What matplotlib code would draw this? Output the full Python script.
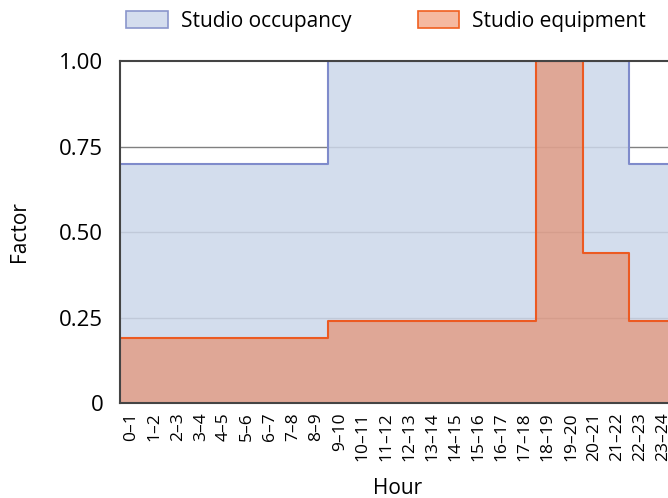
import matplotlib
matplotlib.use("Agg")
import matplotlib.pyplot as plt
from matplotlib.patches import Patch
import numpy as np

plt.rcParams['font.family'] = ['Open Sans', 'DejaVu Sans']

hours = [f"{h}\u2013{h+1}" for h in range(24)]
occupancy = [0.70]*9 + [1.0]*13 + [0.70]*2
equipment = [0.19]*9 + [0.24]*9 + [1.0]*2 + [0.44]*2 + [0.24]*2
yticks = [0, 0.25, 0.5, 0.75, 1.0]
yticklabels = ["0", "0.25", "0.50", "0.75", "1.00"]

fig = plt.figure(figsize=(6.68, 4.98), dpi=100)
ax = fig.add_axes([120/668, 1-403/498, 555/668, (403-61)/498])

edges = np.arange(len(hours) + 1)
occ_ext = occupancy + [occupancy[-1]]
eq_ext = equipment + [equipment[-1]]

for y in [0.25, 0.5, 0.75]:
    ax.axhline(y, color='#808080', lw=1.0, zorder=0)

ax.fill_between(edges, occ_ext, step='post', color='#ccd7ea', alpha=0.85, lw=0, zorder=1)
ax.step(edges, occ_ext, where='post', color='#7f8bcb', lw=1.5, zorder=2)
ax.fill_between(edges, eq_ext, step='post', color='#eb7341', alpha=0.5, lw=0, zorder=3)
ax.step(edges, eq_ext, where='post', color='#ec5a22', lw=1.5, zorder=4)

ax.set_xlim(0, 24)
ax.set_ylim(0, 1.0)
ax.set_xticks(edges[:-1] + 0.5)
ax.set_xticklabels(hours, rotation=90, fontsize=12.5)
ax.set_yticks(yticks)
ax.set_yticklabels(yticklabels, fontsize=16)
ax.tick_params(axis='both', length=0)
ax.tick_params(axis='y', pad=12)
ax.tick_params(axis='x', pad=7)

for s in ['left', 'bottom', 'top']:
    ax.spines[s].set_color('#444444')
    ax.spines[s].set_linewidth(1.5)
    ax.spines[s].set_zorder(5)
ax.spines['right'].set_visible(False)

ax.set_xlabel('Hour', fontsize=15, labelpad=12)
ax.set_ylabel('Factor', fontsize=15, labelpad=21)

handles = [Patch(facecolor='#d4ddee', edgecolor='#8a96cc', lw=1.2, label='Studio occupancy'),
           Patch(facecolor='#f5b9a0', edgecolor='#f06020', lw=1.2, label='Studio equipment')]
fig.legend(handles=handles, loc='center', bbox_to_anchor=(386/668, 1-21/498), ncol=2,
           frameon=False, fontsize=15, handlelength=2.0, handleheight=0.9,
           handletextpad=0.6, columnspacing=3.2)

fig.savefig('out.png', dpi=100)
